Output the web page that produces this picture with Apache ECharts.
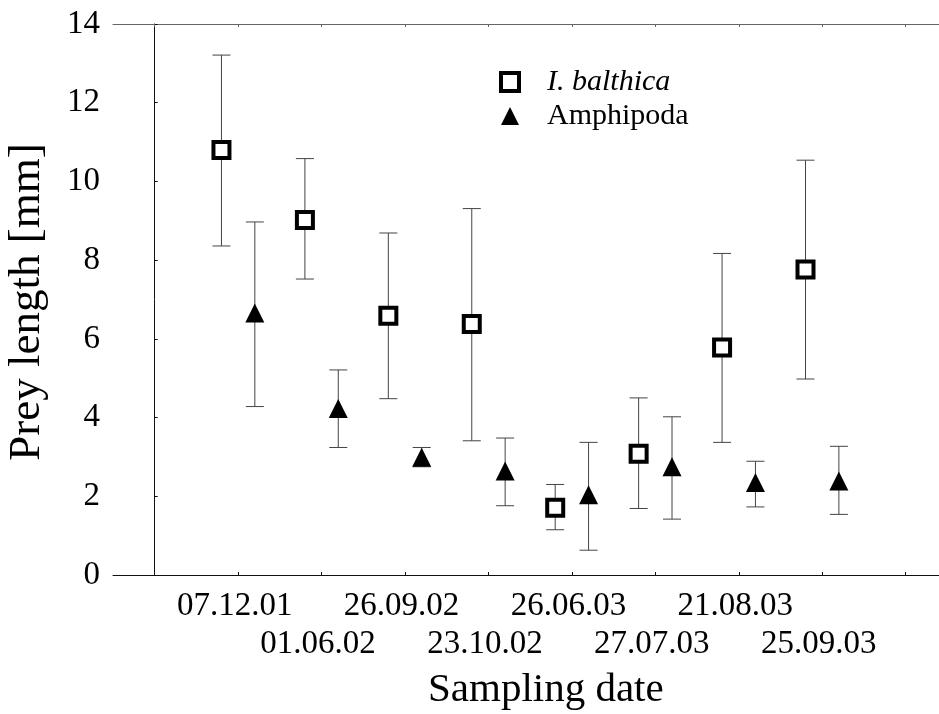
<!DOCTYPE html>
<html>
<head>
<meta charset="utf-8">
<script src="https://cdn.jsdelivr.net/npm/echarts@6/dist/echarts.min.js"></script>
<style>html,body{margin:0;padding:0;background:#fff}#c{width:939px;height:714px}</style>
</head>
<body>
<div id="c"></div>
<script>
var categories = ['07.12.01','01.06.02','26.09.02','23.10.02','26.06.03','27.07.03','21.08.03','25.09.03'];
var balthicaMean = [10.80, 9.02, 6.59, 6.38, 1.71, 3.08, 5.78, 7.76];
var balthicaHigh = [13.21, 10.58, 8.69, 9.31, 2.30, 4.50, 8.17, 10.54];
var balthicaLow  = [8.36, 7.52, 4.48, 3.41, 1.15, 1.69, 3.37, 4.98];
var amphiMean = [6.66, 4.23, 2.99, 2.64, 2.04, 2.75, 2.35, 2.39];
var amphiHigh = [8.97, 5.21, 3.24, 3.48, 3.37, 4.02, 2.89, 3.27];
var amphiLow  = [4.28, 3.24, 2.75, 1.76, 0.63, 1.42, 1.73, 1.54];
var yTicks = [0, 2, 4, 6, 8, 10, 12, 14];

var FONT = 'Liberation Serif';
var OFF = 0.2;
var catPos = categories.map(function (c, i) { return i + 1; });
var row1Pos = catPos.filter(function (p, i) { return i % 2 === 0; });
var row2Pos = catPos.filter(function (p, i) { return i % 2 === 1; });
var tickPos = [0,1,2,3,4,5,6,7,8,9];

function pts(mean, off) { return mean.map(function (v, i) { return [catPos[i] + off, v]; }); }
function errs(lo, hi, off) { return lo.map(function (v, i) { return [catPos[i] + off, v, hi[i]]; }); }
function catLabel(v) { var i = Math.round(v) - 1; return (i >= 0 && i < categories.length) ? categories[i] : ''; }

function errRender(params, api) {
  var x = api.value(0);
  var p1 = api.coord([x, api.value(1)]);
  var p2 = api.coord([x, api.value(2)]);
  var w = 9;
  var st = { stroke: '#444', lineWidth: 1 };
  return { type: 'group', children: [
    { type: 'line', shape: { x1: p1[0], y1: p1[1], x2: p2[0], y2: p2[1] }, style: st },
    { type: 'line', shape: { x1: p1[0]-w, y1: p1[1], x2: p1[0]+w, y2: p1[1] }, style: st },
    { type: 'line', shape: { x1: p2[0]-w, y1: p2[1], x2: p2[0]+w, y2: p2[1] }, style: st }
  ]};
}

var labelStyle = { fontFamily: FONT, fontSize: 33, color: '#000', padding: [0, 7, 0, 0], hideOverlap: false, formatter: catLabel };

var chart = echarts.init(document.getElementById('c'), null, { renderer: 'canvas' });
chart.setOption({
  backgroundColor: '#fff',
  animation: false,
  grid: { left: 113, right: 0, top: 24, bottom: 139, containLabel: false },
  legend: {
    orient: 'vertical', left: 494, top: 62, itemGap: 4,
    itemWidth: 18, itemHeight: 18,
    data: [
      { name: 'I. balthica', itemStyle: { color: '#fff', borderColor: '#000', borderWidth: 4 } },
      { name: 'Amphipoda', itemStyle: { color: '#000', borderWidth: 0 } }
    ],
    formatter: function (n) { return n === 'I. balthica' ? '{i|' + n + '}' : '{n|' + n + '}'; },
    textStyle: { fontFamily: FONT, fontSize: 30, color: '#000', padding: [0,0,0,23],
      rich: { i: { fontFamily: FONT, fontSize: 30, fontStyle: 'italic', color: '#000' },
              n: { fontFamily: FONT, fontSize: 30, color: '#000' } } }
  },
  xAxis: [{
    type: 'value', min: -0.5, max: 9.4, position: 'bottom',
    splitLine: { show: false },
    axisLine: { show: true, onZero: false, lineStyle: { color: '#111', width: 1 } },
    axisTick: { show: true, inside: true, length: 3, customValues: tickPos, lineStyle: { color: '#111' } },
    axisLabel: Object.assign({ customValues: row1Pos, margin: 15 }, labelStyle)
  }, {
    type: 'value', min: -0.5, max: 9.4, position: 'bottom', offset: 38,
    splitLine: { show: false },
    axisLine: { show: false },
    axisTick: { show: false },
    axisLabel: Object.assign({ customValues: row2Pos, margin: 15 }, labelStyle)
  }, {
    type: 'value', min: -0.5, max: 9.4, position: 'top',
    splitLine: { show: false },
    axisLine: { show: true, onZero: false, lineStyle: { color: '#666', width: 1 } },
    axisTick: { show: true, inside: true, length: 3, customValues: tickPos, lineStyle: { color: '#666' } },
    axisLabel: { show: false }
  }],
  yAxis: {
    type: 'value', min: 0, max: 14, interval: 2,
    splitLine: { show: false },
    axisLine: { show: true, lineStyle: { color: '#111', width: 1 } },
    axisTick: { show: true, inside: true, length: 3, lineStyle: { color: '#111' } },
    axisLabel: { margin: 13, fontFamily: FONT, fontSize: 33, color: '#000', customValues: yTicks }
  },
  graphic: [
    { type: 'text', left: 428, top: 670, style: { text: 'Sampling date', font: '41px "Liberation Serif"', fill: '#000' } },
    { type: 'text', x: 5, y: 302, rotation: Math.PI / 2, style: { text: 'Prey length [mm]', font: '45px "Liberation Serif"', fill: '#000', align: 'center', verticalAlign: 'top' } }
  ],
  series: [
    { type: 'custom', name: 'errB', renderItem: errRender, data: errs(balthicaLow, balthicaHigh, -OFF), encode: { x: 0, y: [1, 2] }, z: 1, silent: true },
    { type: 'custom', name: 'errA', renderItem: errRender, data: errs(amphiLow, amphiHigh, OFF), encode: { x: 0, y: [1, 2] }, z: 1, silent: true },
    { type: 'scatter', name: 'I. balthica', symbol: 'rect', symbolSize: 16, data: pts(balthicaMean, -OFF), z: 5,
      itemStyle: { color: '#fff', borderColor: '#000', borderWidth: 4, opacity: 1 } },
    { type: 'scatter', name: 'Amphipoda', symbol: 'triangle', symbolSize: 19, data: pts(amphiMean, OFF), z: 5,
      itemStyle: { color: '#000', opacity: 1 } }
  ]
});
</script>
</body>
</html>
